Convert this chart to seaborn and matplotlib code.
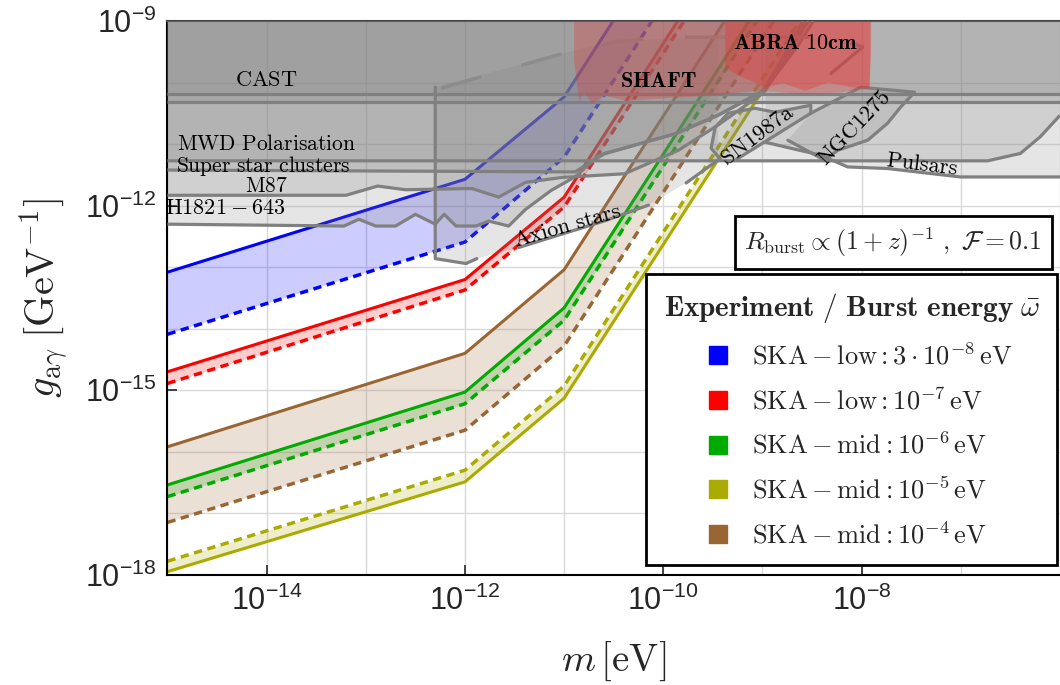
import matplotlib
matplotlib.use("Agg")
import matplotlib.pyplot as plt
from matplotlib.lines import Line2D
from matplotlib.ticker import FixedLocator, NullFormatter
import numpy as np
import seaborn as sns

# Data (log10 values) ====

# SKA forecast curves: log10(m / eV) knots and log10(g / GeV^-1)
m_knots = [-15, -12, -11, -8]
ska_series = {
    "blue":  {"solid": [-13.08, -11.57, -10.23, -2.73], "dashed": [-14.09, -12.59, -11.21, -3.71]},
    "red":   {"solid": [-14.70, -13.20, -11.86, -4.36], "dashed": [-14.89, -13.37, -12.02, -4.52]},
    "green": {"solid": [-16.54, -15.03, -13.66, -6.16], "dashed": [-16.73, -15.22, -13.86, -6.36]},
    "olive": {"solid": [-17.95, -16.49, -15.13, -7.63], "dashed": [-17.78, -16.30, -14.93, -7.43]},
    "brown": {"solid": [-15.92, -14.40, -13.04, -5.54], "dashed": [-17.15, -15.65, -14.28, -6.78]},
}
ska_colors = {"blue": "#0000ff", "red": "#ff0000", "green": "#00aa00",
              "olive": "#aaaa00", "brown": "#996633"}
legend_order = ["blue", "red", "green", "olive", "brown"]
legend_labels = [
    r"$\mathrm{SKA-low}:3\cdot 10^{-8}\,\mathrm{eV}$",
    r"$\mathrm{SKA-low}:10^{-7}\,\mathrm{eV}$",
    r"$\mathrm{SKA-mid}:10^{-6}\,\mathrm{eV}$",
    r"$\mathrm{SKA-mid}:10^{-5}\,\mathrm{eV}$",
    r"$\mathrm{SKA-mid}:10^{-4}\,\mathrm{eV}$",
]

# existing limits (upper regions excluded)
cast_m = [-15, -6]
cast_g = [-10.18, -10.18]
cast2_g = [-10.31, -10.31]

mwd_m = [-15, -6.73, -6.40, -6.20, -6.0]
mwd_g = [-11.27, -11.27, -11.15, -10.88, -10.53]

ssc_m = [-15, -10.89, -10.59, -9.88, -9.45, -8.98, -8.64, -8.49]
ssc_g = [-11.42, -11.45, -11.15, -10.83, -10.53, -10.12, -9.39, -9.0]

m87_m = [-15, -13.20, -12.88, -12.60, -11.93, -11.66, -11.39, -11.02, -10.39, -9.85, -9.45, -8.98, -8.54]
m87_g = [-11.83, -11.83, -11.68, -11.74, -11.72, -11.86, -11.62, -11.54, -11.48, -11.10, -10.69, -10.15, -9.0]

h1821_m = [-15, -13.22, -13.07, -12.90, -12.70, -12.50, -12.30, -12.21, -12.09, -11.89,
           -11.76, -11.56, -11.39, -11.13, -10.89, -10.65, -9.88, -9.45, -8.98, -8.59]
h1821_g = [-12.30, -12.33, -12.22, -12.33, -12.33, -12.14, -12.30, -12.14, -12.33, -12.33,
           -12.25, -12.33, -12.06, -11.75, -11.53, -11.18, -10.83, -10.53, -10.12, -9.0]

box_m = [-12.30, -12.30, -11.99, -11.88, -11.46, -11.00, -10.58, -10.15, -9.77, -9.45, -9.45, -10.45, -10.96]
box_g = [-10.07, -12.86, -12.94, -12.86, -12.68, -12.45, -12.24, -11.99, -11.63, -11.26, -9.26, -9.31, -9.50]
axion_m = [-11.46, -11.00, -10.58, -10.15]
axion_g = [-12.68, -12.45, -12.24, -11.99]
axion2_m = [-9.77, -9.45]
axion2_g = [-11.63, -11.26]

dash_m = [-12.24, -10.96, -10.50, -10.05, -8.27, -7.99]
dash_g = [-10.09, -9.50, -9.34, -9.26, -9.26, -9.42]
dash_tail_m = [-7.99, -8.31]
dash_tail_g = [-9.42, -9.85]

sn_m = [-9.417, -9.518, -9.477, -9.347, -9.076, -8.874, -8.513, -8.513, -9.276, -9.417]
sn_g = [-11.260, -11.065, -10.724, -10.496, -10.415, -10.480, -10.366, -10.496, -11.260, -11.260]

ngc_m = [-8.513, -8.010, -7.467, -7.608, -7.739, -7.940, -8.241, -8.372, -8.744, -8.513]
ngc_g = [-10.496, -10.073, -10.154, -10.398, -10.659, -10.935, -11.098, -11.260, -10.935, -10.496]

pulsar_m = [-8.975, -8.412, -8.141, -7.739, -7.005, -6.0]
pulsar_g = [-10.967, -11.179, -11.369, -11.395, -11.532, -11.532]

shaft_m = [-10.905, -10.854, -10.80, -10.724, -10.60, -10.382, -10.05, -9.548, -9.045, -8.643, -8.241, -7.920]
shaft_g = [-9.634, -10.285, -10.15, -10.333, -10.20, -10.285, -10.252, -10.203, -10.122, -10.171, -10.154, -10.089]

abra_m = [-9.380, -9.246, -9.076, -8.975, -8.80, -8.573, -8.342, -8.071, -7.93, -7.910]
abra_g = [-9.748, -9.878, -9.992, -10.073, -10.00, -10.122, -9.992, -10.073, -10.07, -9.520]

# labels: (text, log m, log g, rotation, alignment, size)
region_labels = [
    (r"$\mathrm{CAST}$", -14.0, -9.96, 0, "center", 16),
    (r"$\mathrm{MWD\ Polarisation}$", -14.0, -11.0, 0, "center", 15.5),
    (r"$\mathrm{Super\ star\ clusters}$", -14.03, -11.35, 0, "center", 15.5),
    (r"$\mathrm{M87}$", -14.0, -11.69, 0, "center", 15.5),
    (r"$\mathrm{H1821-643}$", -15.02, -12.05, 0, "left", 16),
    (r"$\mathrm{Axion\ stars}$", -10.97, -12.33, 16, "center", 16),
    (r"$\mathbf{SHAFT}$", -10.05, -9.98, 0, "center", 16),
    (r"$\mathbf{ABRA\ 10cm}$", -8.67, -9.37, 0, "center", 16),
    (r"$\mathrm{SN1987a}$", -9.05, -10.87, 37, "center", 16),
    (r"$\mathrm{NGC1275}$", -8.07, -10.74, 46, "center", 16),
    (r"$\mathrm{Pulsars}$", -7.39, -11.34, -7, "center", 16),
]


# Plot ====

sns.set_theme(style="white")
plt.rcParams["font.family"] = ["Liberation Sans", "DejaVu Sans"]
plt.rcParams["mathtext.fontset"] = "cm"

fig = plt.figure(figsize=(10.6, 6.85), dpi=100)
ax = fig.add_axes([0.158, 0.161, 0.842, 0.808])
ax.set_xscale("log")
ax.set_yscale("log")

m = 10.0 ** np.array(m_knots)
for name, s in ska_series.items():
    c = ska_colors[name]
    ys = 10.0 ** np.array(s["solid"])
    yd = 10.0 ** np.array(s["dashed"])
    ax.fill_between(m, ys, yd, color=c, alpha=0.2, lw=0, zorder=1)
    sns.lineplot(x=m, y=ys, ax=ax, color=c, lw=2.2, sort=False, legend=False, zorder=2)
    sns.lineplot(x=m, y=yd, ax=ax, color=c, lw=2.5, sort=False, legend=False, zorder=2,
                 linestyle=(0, (2.4, 1.6)))

gray_edge = "#808080"
top = 1e-9


def bound(xs, ys):
    x = 10.0 ** np.array(xs)
    y = 10.0 ** np.array(ys)
    ax.fill_between(x, y, top, color="gray", alpha=0.2, lw=0, zorder=3)
    ax.plot(x, y, color=gray_edge, lw=2.3, zorder=4, solid_capstyle="butt")


bound(cast_m, cast_g)
bound(cast_m, cast2_g)
bound(mwd_m, mwd_g)
bound(ssc_m, ssc_g)
bound(m87_m, m87_g)
bound(h1821_m, h1821_g)
bound(pulsar_m, pulsar_g)

for xs, ys in [(box_m, box_g), (sn_m, sn_g), (ngc_m, ngc_g)]:
    ax.fill(10.0 ** np.array(xs), 10.0 ** np.array(ys), color="gray", alpha=0.2, lw=0, zorder=3)
for xs, ys in [(box_m[:4], box_g[:4]), (axion_m, axion_g), (axion2_m, axion2_g),
               (sn_m[:-1], sn_g[:-1]), (ngc_m[:-1], ngc_g[:-1]), (dash_tail_m, dash_tail_g)]:
    ax.plot(10.0 ** np.array(xs), 10.0 ** np.array(ys), color=gray_edge, lw=2.3, zorder=4)
ax.plot(10.0 ** np.array(dash_m), 10.0 ** np.array(dash_g), color="#8c8c8c", lw=2.5,
        ls=(0, (12, 12)), zorder=4)

ax.fill_between(10.0 ** np.array(shaft_m), 10.0 ** np.array(shaft_g), top,
                color="#e83030", alpha=0.3, lw=0, zorder=5)
ax.fill_between(10.0 ** np.array(abra_m), 10.0 ** np.array(abra_g), top,
                color="#e83030", alpha=0.35, lw=0, zorder=5)

for txt, lx, ly, rot, ha, fs in region_labels:
    ax.text(10.0 ** lx, 10.0 ** ly, txt, fontsize=fs, rotation=rot, ha=ha, va="center",
            rotation_mode="anchor", color="black", zorder=6)

ax.set_xlim(1e-15, 1e-6)
ax.set_ylim(1e-18, 1e-9)

ax.xaxis.set_major_locator(FixedLocator([1e-14, 1e-12, 1e-10, 1e-8]))
ax.xaxis.set_minor_locator(FixedLocator([10.0 ** k for k in range(-15, -5)]))
ax.yaxis.set_major_locator(FixedLocator([1e-18, 1e-15, 1e-12, 1e-9]))
ax.yaxis.set_minor_locator(FixedLocator([10.0 ** k for k in range(-18, -8)]))
ax.xaxis.set_minor_formatter(NullFormatter())
ax.yaxis.set_minor_formatter(NullFormatter())
ax.tick_params(which="major", direction="in", length=7, width=1.2, labelsize=22,
               bottom=True, left=True, top=False, right=False, pad=8)
ax.tick_params(which="minor", length=0)
ax.grid(True, which="both", color="#d9d9d9", lw=1)
ax.set_axisbelow(True)

for side in ["left", "bottom"]:
    ax.spines[side].set_color("black")
    ax.spines[side].set_linewidth(1.5)
ax.spines["top"].set_color("#444444")
ax.spines["top"].set_linewidth(1.5)
ax.spines["right"].set_visible(False)

ax.set_xlabel(r"$m\,[\mathrm{eV}]$", fontsize=28, labelpad=16)
ax.set_ylabel(r"$g_{\mathrm{a}\gamma}\;[\mathrm{GeV}^{-1}]$", fontsize=29, labelpad=10)

ax.text(0.813, 0.601, r"$R_{\mathrm{burst}}\propto(1+z)^{-1}\ ,\ \mathcal{F}=0.1$",
        transform=ax.transAxes, ha="center", va="center", fontsize=18.5, zorder=20,
        bbox=dict(boxstyle="square,pad=0.38", fc="white", ec="black", lw=2))

handles = [Line2D([], [], marker="s", ls="none", color=ska_colors[k], markersize=13)
           for k in legend_order]
leg = ax.legend(handles, legend_labels,
                title=r"$\mathbf{Experiment\ /\ Burst\ energy}\ \bar{\omega}$",
                loc="lower right", bbox_to_anchor=(0.997, 0.017), borderaxespad=0,
                fontsize=19, title_fontsize=21, frameon=True, fancybox=False,
                edgecolor="black", framealpha=1, handletextpad=0.3,
                labelspacing=0.68, borderpad=0.65)
leg.get_frame().set_linewidth(2)
leg.set_zorder(20)

fig.savefig("out.png", dpi=100)
